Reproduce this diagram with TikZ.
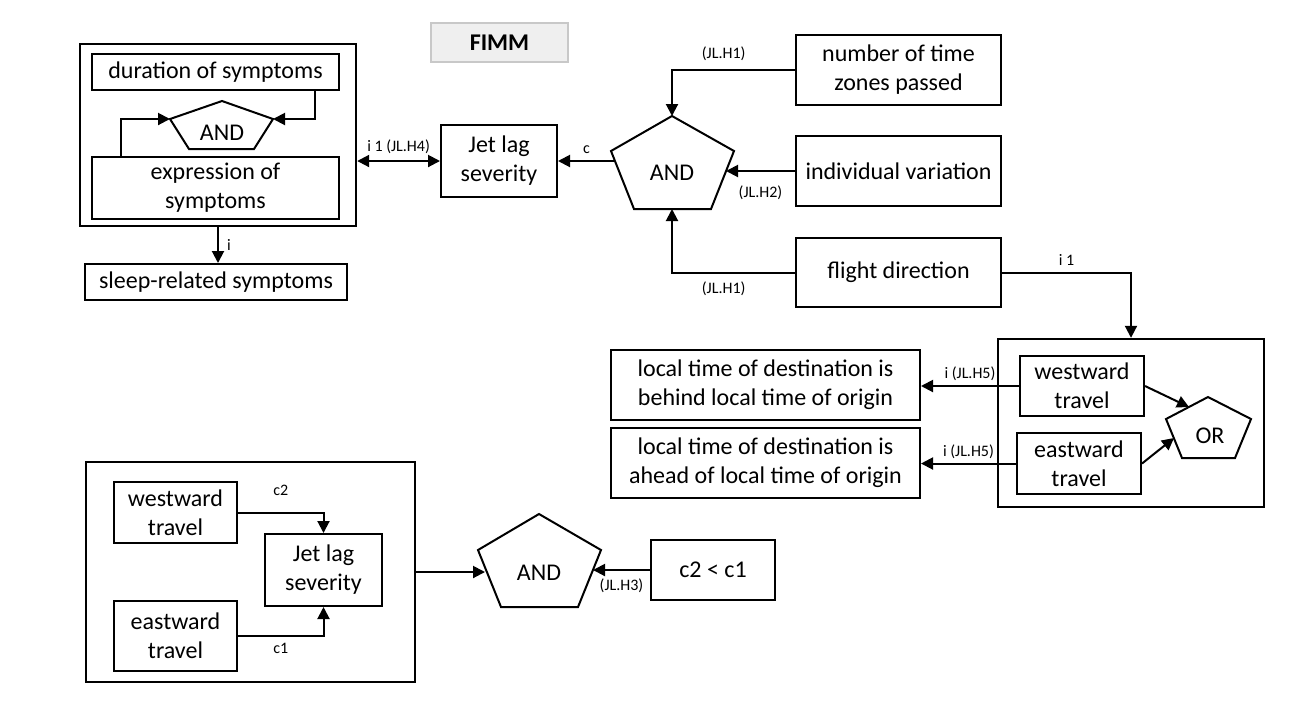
\documentclass[tikz,border=0pt]{standalone}
\usepackage{fontspec}
\setmainfont{Carlito}
\usepackage{xcolor}
\definecolor{fimmGray}{RGB}{239, 239, 239}
\definecolor{fimmEdge}{RGB}{200, 200, 200}
\usepackage{tikz}
\usetikzlibrary{arrows.meta}

\begin{document}
\begin{tikzpicture}[x=0.5pt, y=-0.5pt,
  box/.style={draw, line width=1pt, inner sep=0pt, align=center, font=\fontsize{12}{14.5}\selectfont},
  frame/.style={draw, line width=1.2pt, inner sep=0pt},
  gate/.style={draw, line width=1pt, line join=miter},
  gatetext/.style={font=\fontsize{12}{14.5}\selectfont, inner sep=0pt},
  arr/.style={line width=1pt, -{Triangle[length=6pt, width=6pt]}},
  lbl/.style={font=\fontsize{8}{9.5}\selectfont, inner sep=1pt}]
\useasboundingbox (0,0) rectangle (1306,714);

\node[draw=fimmEdge, fill=fimmGray, line width=1pt, minimum width=68.5pt, minimum height=19.5pt, font=\fontsize{12}{14.5}\selectfont\bfseries] (fimm) at (499.5,42.5) {FIMM};

% symptoms
\node[frame, minimum width=138pt, minimum height=91pt] (symp) at (218,135) {};
\node[box, minimum width=123.5pt, minimum height=18pt] (dur) at (215.5,72) {duration of symptoms};
\node[box, minimum width=123.5pt, minimum height=31pt] (expr) at (215.5,188) {expression of\\symptoms};
\draw[gate] (222,101) -- (273,119) coordinate (andAr) -- (254,149) -- (189,149) -- (170,119) coordinate (andAl) -- cycle;
\node[gatetext] (andA) at (222,133) {AND};
\draw[arr] (315,0 |- dur.south) |- (andAr);
\draw[arr] (121,0 |- expr.north) |- (andAl);
\node[box, minimum width=131pt, minimum height=18pt] (sleep) at (216,282) {sleep-related symptoms};
\draw[arr] (symp.south) -- (symp.south |- sleep.north) node[lbl, midway, right=3pt] {i};

% jet lag
\node[box, minimum width=58pt, minimum height=36pt] (jet) at (499,161) {Jet lag\\severity};
\draw[line width=1pt, {Triangle[length=6pt, width=6pt]}-{Triangle[length=6pt, width=6pt]}] (symp.east |- jet.west) -- (jet.west) node[lbl, midway, above=2pt] {i 1 (JL.H4)};

\draw[gate] (672,116) coordinate (andBt) -- (734,151) -- (711,209) -- (634,209) -- (611,151) -- cycle;
\coordinate (andBw) at (615,161);
\coordinate (andBe) at (726,171);
\coordinate (andBb) at (672,209);
\node[gatetext] (andB) at (672,173) {AND};
\draw[arr] (andBw) -- (jet.east) node[lbl, midway, above=2pt] {c};

\node[box, minimum width=102.5pt, minimum height=35pt] (zones) at (898.5,70) {number of time\\zones passed};
\node[box, minimum width=102.5pt, minimum height=35pt] (indiv) at (898.5,171) {individual variation};
\node[box, minimum width=102.5pt, minimum height=34.5pt] (flight) at (898.5,272.5) {flight direction};
\draw[arr] (zones.west) -| (andBt) node[lbl, pos=0.29, above=3pt] {(JL.H1)};
\draw[arr] (indiv.west) -- (andBe) node[lbl, midway, below=6pt] {(JL.H2)};
\draw[arr] (flight.west) -| (andBb) node[lbl, pos=0.29, below=3pt] {(JL.H1)};

% flight direction
\node[frame, minimum width=133pt, minimum height=84pt] (orbox) at (1131,423) {};
\draw[arr] (flight.east) -| (orbox.north) node[lbl, pos=0.25, above=2pt] {i 1};
\node[box, minimum width=62pt, minimum height=30pt] (west) at (1082,386) {westward\\travel};
\node[box, minimum width=62pt, minimum height=30.5pt] (east) at (1079,463.5) {eastward\\travel};
\draw[gate] (1208,397) -- (1251,419) -- (1235,458) -- (1182,458) -- (1166,419) -- cycle;
\coordinate (orA) at (1189,407);
\coordinate (orB) at (1174,438);
\node[gatetext] (or) at (1210,436) {OR};
\draw[arr] (west.east) -- (orA);
\draw[arr] (east.east) -- (orB);
\node[box, minimum width=154.5pt, minimum height=35pt] (behind) at (765.5,385) {local time of destination is\\behind local time of origin};
\node[box, minimum width=154.5pt, minimum height=35pt] (ahead) at (765.5,463) {local time of destination is\\ahead of local time of origin};
\draw[arr] (west.west) -- (west.west -| behind.east) node[lbl, midway, above=1pt] {i (JL.H5)};
\draw[arr] (east.west) -- (east.west -| ahead.east) node[lbl, midway, above=1pt] {i (JL.H5)};

% comparison
\node[frame, minimum width=164.5pt, minimum height=110pt] (bot) at (250.5,572) {};
\node[box, minimum width=61.5pt, minimum height=30.5pt] (west2) at (175.5,512.5) {westward\\travel};
\node[box, minimum width=58.5pt, minimum height=36pt] (jet2) at (323.5,570) {Jet lag\\severity};
\node[box, minimum width=61.5pt, minimum height=35pt] (east2) at (175.5,636) {eastward\\travel};
\draw[arr] (west2.east) -| (jet2.north) node[lbl, pos=0.25, above=7pt] {c2};
\draw[arr] (east2.east) -| (jet2.south) node[lbl, pos=0.25, below=2pt] {c1};

\draw[gate] (539,514) -- (601,550) -- (578,607) -- (501,607) -- (478,550) -- cycle;
\coordinate (andCw) at (485,572);
\coordinate (andCe) at (593,570);
\node[gatetext] (andC) at (539,573) {AND};
\draw[arr] (bot.east) -- (andCw);
\node[box, minimum width=62pt, minimum height=30pt] (cmp) at (713,570) {c2 < c1};
\draw[arr] (cmp.west) -- (andCe) node[lbl, midway, below=3pt] {(JL.H3)};
\end{tikzpicture}
\end{document}
